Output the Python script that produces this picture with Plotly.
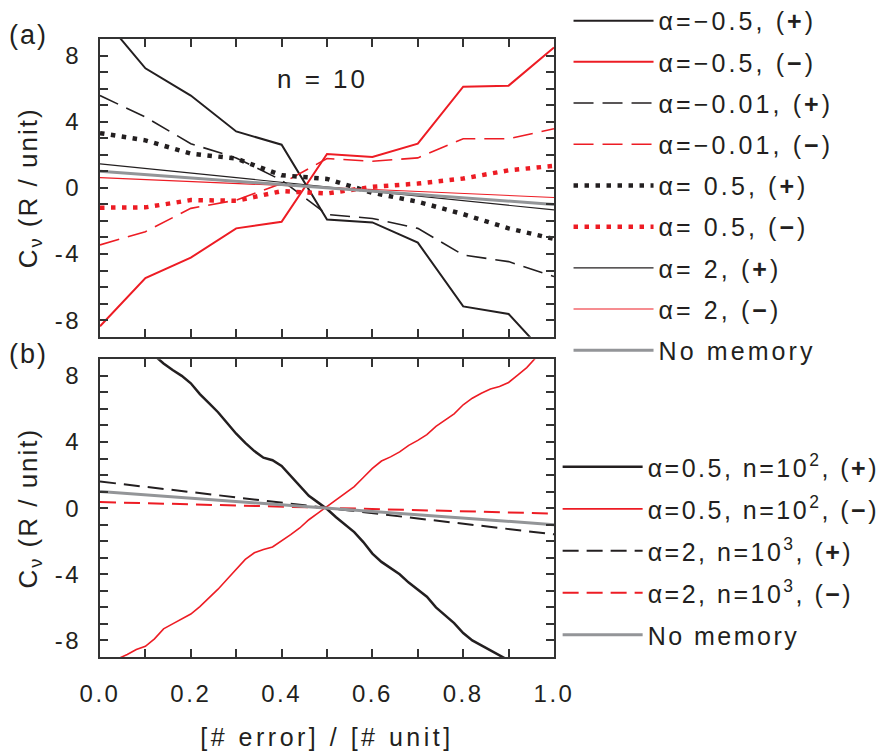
import plotly.graph_objects as go

# ---------------- data ----------------
x_a = [0.0, 0.1, 0.2, 0.3, 0.4, 0.5, 0.6, 0.7, 0.8, 0.9, 1.0]
a_m05_plus = [10.5, 7.23, 5.58, 3.41, 2.61, -1.91, -2.09, -3.31, -7.17, -7.63, -10.6]
a_m05_minus = [-8.37, -5.46, -4.22, -2.45, -2.05, 2.05, 1.87, 2.67, 6.12, 6.18, 8.49]
a_m001_plus = [5.58, 4.28, 2.67, 1.81, 0.46, -1.61, -1.85, -2.45, -4.06, -4.46, -5.36]
a_m001_minus = [-3.45, -2.65, -1.24, -0.74, 0.26, 1.77, 1.61, 1.81, 2.97, 2.97, 3.57]
a_05_plus = [3.31, 2.87, 2.07, 1.77, 0.76, 0.54, -0.30, -0.84, -1.59, -2.45, -3.09]
a_05_minus = [-1.20, -1.18, -0.74, -0.78, -0.20, -0.34, 0.06, 0.26, 0.56, 1.06, 1.33]
a_2_plus = [1.45, 1.17, 0.90, 0.62, 0.34, 0.06, -0.22, -0.50, -0.78, -1.06, -1.33]
a_2_minus = [0.62, 0.50, 0.38, 0.26, 0.14, 0.02, -0.10, -0.22, -0.34, -0.46, -0.58]
no_memory = [1.0, 0.8, 0.6, 0.4, 0.2, 0.0, -0.2, -0.4, -0.6, -0.8, -1.0]

x_b = [0.00, 0.02, 0.04, 0.06, 0.08, 0.10, 0.12, 0.14, 0.16, 0.18,
       0.20, 0.22, 0.24, 0.26, 0.28, 0.30, 0.32, 0.34, 0.36, 0.38,
       0.40, 0.42, 0.44, 0.46, 0.48, 0.50, 0.52, 0.54, 0.56, 0.58,
       0.60, 0.62, 0.64, 0.66, 0.68, 0.70, 0.72, 0.74, 0.76, 0.78,
       0.80, 0.82, 0.84, 0.86, 0.88, 0.90, 0.92, 0.94, 0.96, 0.98, 1.00]
b_05_n100_plus = [11.6, 11.3, 11.0, 10.6, 10.1, 9.7, 9.2, 8.75, 8.35, 8.0,
                  7.55, 6.9, 6.35, 5.8, 5.15, 4.5, 3.95, 3.45, 3.05, 2.9,
                  2.55, 1.95, 1.3, 0.75, 0.35, -0.05, -0.55, -1.0, -1.45, -2.05,
                  -2.75, -3.25, -3.6, -4.0, -4.5, -4.9, -5.35, -6.0, -6.5, -6.95,
                  -7.55, -8.0, -8.3, -8.6, -8.85, -9.2, -9.6, -10.0, -10.4, -10.8, -11.2]
b_05_n100_minus = [-9.6, -9.4, -9.1, -8.85, -8.55, -8.35, -7.9, -7.3, -7.0, -6.7,
                   -6.4, -5.95, -5.45, -4.9, -4.3, -3.7, -3.1, -2.7, -2.5, -2.35,
                   -2.0, -1.6, -1.2, -0.7, -0.3, 0.1, 0.55, 0.95, 1.3, 1.85,
                   2.4, 2.85, 3.1, 3.4, 3.8, 4.1, 4.45, 4.95, 5.3, 5.7,
                   6.25, 6.65, 6.95, 7.2, 7.35, 7.6, 8.05, 8.5, 9.1, 9.5, 9.9]
b_2_n1000_plus = [1.61, 1.29, 0.97, 0.65, 0.33, 0.01, -0.31, -0.63, -0.95, -1.27, -1.58]
b_2_n1000_minus = [0.37, 0.30, 0.23, 0.16, 0.09, 0.02, -0.05, -0.12, -0.19, -0.26, -0.33]

y_tickvals = [-8, -4, 0, 4, 8]
y_ticklabels = ["-8", "-4", "0", "4", "8"]
x_tickvals = [0.0, 0.2, 0.4, 0.6, 0.8, 1.0]
x_ticklabels = ["0.0", "0.2", "0.4", "0.6", "0.8", "1.0"]

names_a = ["α=−0.5, (<b>+</b>)", "α=−0.5, (<b>−</b>)", "α=−0.01, (<b>+</b>)",
           "α=−0.01, (<b>−</b>)", "α= 0.5, (<b>+</b>)", "α= 0.5, (<b>−</b>)",
           "α= 2, (<b>+</b>)", "α= 2, (<b>−</b>)", "No memory"]
names_b = ["α=0.5, n=10<sup>2</sup>, (<b>+</b>)", "α=0.5, n=10<sup>2</sup>, (<b>−</b>)",
           "α=2, n=10<sup>3</sup>, (<b>+</b>)", "α=2, n=10<sup>3</sup>, (<b>−</b>)",
           "No memory"]


def sp(t, s):
    return '<span style="letter-spacing:%spx">%s</span>' % (s, t)


BLACK = "#231f20"
RED = "#ed1c24"
GRAY = "#939598"
AXC = "#333333"
FONT = "Arial, 'Liberation Sans', sans-serif"

fig = go.Figure()

styles_a = [
    (a_m05_plus, BLACK, 2.0, "solid"),
    (a_m05_minus, RED, 2.0, "solid"),
    (a_m001_plus, BLACK, 1.6, "20px,9px"),
    (a_m001_minus, RED, 1.6, "20px,9px"),
    (a_05_plus, BLACK, 4.5, "4.5px,6.5px"),
    (a_05_minus, RED, 4.5, "4.5px,6.5px"),
    (a_2_plus, BLACK, 1.1, "solid"),
    (a_2_minus, RED, 1.1, "solid"),
    (no_memory, GRAY, 3, "solid"),
]
for i, (ys, col, w, dash) in enumerate(styles_a):
    fig.add_trace(go.Scatter(x=x_a, y=ys, mode="lines", name=sp(names_a[i], 3.1),
                             line=dict(color=col, width=w, dash=dash),
                             xaxis="x", yaxis="y", legend="legend",
                             legendgroup="a%d" % i))

styles_b = [
    (x_b, b_05_n100_plus, BLACK, 2.5, "solid"),
    (x_b, b_05_n100_minus, RED, 1.6, "solid"),
    (x_a, b_2_n1000_plus, BLACK, 2.0, "16px,8px"),
    (x_a, b_2_n1000_minus, RED, 2.0, "16px,8px"),
    (x_a, no_memory, GRAY, 3, "solid"),
]
for i, (xs, ys, col, w, dash) in enumerate(styles_b):
    fig.add_trace(go.Scatter(x=xs, y=ys, mode="lines", name=sp(names_b[i], 2.5),
                             line=dict(color=col, width=w, dash=dash),
                             xaxis="x2", yaxis="y2", legend="legend2",
                             legendgroup="b%d" % i))

axis_common = dict(showline=True, linewidth=2, linecolor=AXC, mirror="ticks",
                   ticks="inside", ticklen=8, tickwidth=1.6, tickcolor=AXC,
                   showgrid=False, zeroline=False,
                   tickfont=dict(family=FONT, size=24, color=BLACK))

xax = dict(axis_common, range=[0, 1], tickmode="array", tickvals=x_tickvals,
           ticktext=[sp(t, 2.5) for t in x_ticklabels],
           minor=dict(tickmode="linear", dtick=0.1, tick0=0, ticks="inside", ticklen=8,
                      tickwidth=1.6, tickcolor=AXC))
yax = dict(axis_common, range=[-9, 9], tickmode="array", tickvals=y_tickvals,
           ticktext=[sp(t, 2.5) for t in y_ticklabels], ticklabelstandoff=12,
           minor=dict(tickmode="linear", dtick=1, tick0=0, ticks="inside",
                      ticklen=8, tickwidth=1.6, tickcolor=AXC),
           title=dict(text=sp("C<sub>ν</sub> (R / unit)", 2), standoff=10,
                      font=dict(family=FONT, size=26, color=BLACK)))

fig.update_layout(
    width=886, height=753,
    margin=dict(l=100, r=332, t=39, b=96, autoexpand=False),
    paper_bgcolor="white", plot_bgcolor="white",
    font=dict(family=FONT, color=BLACK),
    xaxis=dict(xax, domain=[0, 1], anchor="y", showticklabels=False),
    yaxis=dict(yax, domain=[0.5183, 1], anchor="x"),
    xaxis2=dict(xax, domain=[0, 1], anchor="y2", ticklabelstandoff=14,
                title=dict(text=sp("[# error] / [# unit]", 3.5), standoff=23,
                           font=dict(family=FONT, size=25, color=BLACK))),
    yaxis2=dict(yax, domain=[0, 0.4817], anchor="x2"),
    legend=dict(x=1.032, y=1.0665, xanchor="left", yanchor="top",
                itemwidth=80, tracegroupgap=5.7, bgcolor="rgba(0,0,0,0)",
                font=dict(family=FONT, size=25, color=BLACK)),
    legend2=dict(x=1.008, y=0.3445, xanchor="left", yanchor="top",
                 itemwidth=80, tracegroupgap=6.5, bgcolor="rgba(0,0,0,0)",
                 font=dict(family=FONT, size=25, color=BLACK)),
    annotations=[
        dict(text=sp("(a)", 2), xref="paper", yref="paper", x=-0.158, y=1.0065,
             xanchor="center", yanchor="middle", showarrow=False,
             font=dict(family=FONT, size=27, color=BLACK)),
        dict(text=sp("(b)", 2), xref="paper", yref="paper", x=-0.158, y=0.490,
             xanchor="center", yanchor="middle", showarrow=False,
             font=dict(family=FONT, size=27, color=BLACK)),
        dict(text=sp("n = 10", 3), xref="x", yref="y", x=0.489, y=6.6,
             xanchor="center", yanchor="middle", showarrow=False,
             font=dict(family=FONT, size=26, color=BLACK)),
    ],
    showlegend=True,
)

fig.write_html("out.html")
